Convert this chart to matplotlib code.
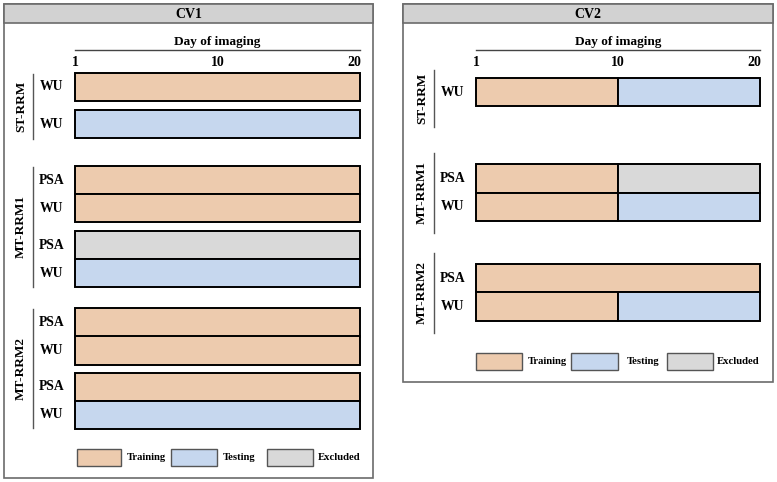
import matplotlib
matplotlib.use("Agg")
import matplotlib.pyplot as plt
from matplotlib.patches import Rectangle
from matplotlib.lines import Line2D
from matplotlib.transforms import offset_copy

plt.rcParams['font.family'] = ['Liberation Serif', 'DejaVu Serif']

W, H = 777, 482

# ---------------- data ----------------
categories = ["Training", "Testing", "Excluded"]
colors = {"Training": "#EDCBAE", "Testing": "#C6D7EE", "Excluded": "#D9D9D9"}

day_ticks = [0, 10, 20]
day_tick_labels = ["1", "10", "20"]

cv1_groups = ["ST-RRM", "MT-RRM1", "MT-RRM2"]
cv1_row_labels = [["WU", "WU"], ["PSA", "WU", "PSA", "WU"], ["PSA", "WU", "PSA", "WU"]]
# each row: list of (start, end, category)
cv1_segments = [
    [[(0, 20, "Training")], [(0, 20, "Testing")]],
    [[(0, 20, "Training")], [(0, 20, "Training")], [(0, 20, "Excluded")], [(0, 20, "Testing")]],
    [[(0, 20, "Training")], [(0, 20, "Training")], [(0, 20, "Training")], [(0, 20, "Testing")]],
]

cv2_groups = ["ST-RRM", "MT-RRM1", "MT-RRM2"]
cv2_row_labels = [["WU"], ["PSA", "WU"], ["PSA", "WU"]]
cv2_segments = [
    [[(0, 10, "Training"), (10, 20, "Testing")]],
    [[(0, 10, "Training"), (10, 20, "Excluded")], [(0, 10, "Training"), (10, 20, "Testing")]],
    [[(0, 20, "Training")], [(0, 10, "Training"), (10, 20, "Testing")]],
]

# ---------------- layout (pixel positions) ----------------
def fx(x):
    return x / W

def fy(y):
    return 1 - y / H

fig = plt.figure(figsize=(W / 100, H / 100), dpi=100)

def draw_panel(title, frame, bar_x, axis_y, bottom_y, row_tops, row_h,
               group_lines, groups, row_labels, segments, legend_y, legend_boxes):
    x0, y0, x1, y1 = frame
    # frame
    fig.patches.append(Rectangle((fx(x0), fy(y1)), fx(x1 - x0), (y1 - y0) / H,
                                 transform=fig.transFigure, fill=False,
                                 edgecolor="#6b6b6b", lw=1.2, zorder=1))
    # header
    hy = 23
    fig.patches.append(Rectangle((fx(x0), fy(hy)), fx(x1 - x0), (hy - y0) / H,
                                 transform=fig.transFigure, facecolor="#D2D2D2",
                                 edgecolor="#6b6b6b", lw=1.2, zorder=1))
    fig.text(fx((x0 + x1) / 2), fy((y0 + hy) / 2 + 0.5), title, ha="center", va="center",
             fontsize=10, fontweight="bold")

    bx0, bx1 = bar_x
    ax = fig.add_axes([fx(bx0), fy(bottom_y), fx(bx1 - bx0), (bottom_y - axis_y) / H])
    ax.set_xlim(day_ticks[0], day_ticks[-1])
    ax.set_ylim(bottom_y, axis_y)
    ax.patch.set_visible(False)
    for s in ["left", "right", "bottom"]:
        ax.spines[s].set_visible(False)
    ax.spines["top"].set_color("#444444")
    ax.spines["top"].set_linewidth(1.0)
    ax.set_xticks([])
    ax.set_yticks([])
    fig.text(fx((bx0 + bx1) / 2), fy(axis_y - 8), "Day of imaging", ha="center",
             va="center", fontsize=9.5, fontweight="bold")
    n = len(day_ticks)
    for i, (t, lab) in enumerate(zip(day_ticks, day_tick_labels)):
        dx = -6 if i == n - 1 else 0
        tr = offset_copy(ax.transData, fig=fig, x=dx, y=0, units="dots")
        ax.text(t, axis_y + 12.5, lab, ha="center", va="center", fontsize=10,
                fontweight="bold", clip_on=False, transform=tr)

    for gi, gname in enumerate(groups):
        for ri, lab in enumerate(row_labels[gi]):
            top = row_tops[gi][ri]
            for (s, e, cat) in segments[gi][ri]:
                ax.barh(top + row_h / 2, e - s, left=s, height=row_h,
                        color=colors[cat], edgecolor="black", linewidth=1.4,
                        clip_on=False, zorder=2)
            fig.text(fx(bx0 - 23.5), fy(top + row_h / 2), lab, ha="center", va="center",
                     fontsize=9.8, fontweight="bold")
        gy0, gy1 = group_lines[gi]
        lx = bx0 - 42
        fig.lines.append(Line2D([fx(lx), fx(lx)], [fy(gy0), fy(gy1)],
                                transform=fig.transFigure, color="#555555", lw=1.0))
        fig.text(fx(lx - 12), fy((gy0 + gy1) / 2), gname, rotation=90, ha="center",
                 va="center", fontsize=9.5, fontweight="bold")

    # legend
    for cat, (bxa, bxb, tx) in zip(categories, legend_boxes):
        fig.patches.append(Rectangle((fx(bxa), fy(legend_y + 8.5)), fx(bxb - bxa), 17 / H,
                                     transform=fig.transFigure, facecolor=colors[cat],
                                     edgecolor="#555555", lw=1.0))
        fig.text(fx(tx), fy(legend_y), cat, ha="left", va="center", fontsize=7.7,
                 fontweight="bold")


# CV1
h = 28.2
draw_panel("CV1", (4, 4, 373, 478), (75, 360), 50, 430,
           [[72.5, 110], [166, 194, 231, 259.2], [308.3, 336.3, 372.7, 400.9]], h,
           [(74, 139), (167, 287), (309, 428)],
           cv1_groups, cv1_row_labels, cv1_segments, 457,
           [(77, 121, 127), (171, 217, 222.5), (267, 313, 318)])

# CV2
draw_panel("CV2", (403, 4, 773, 382), (476, 760), 50, 330,
           [[78.3], [164.3, 192.5], [264, 292.3]], h,
           [(70, 127), (153, 233), (253, 333)],
           cv2_groups, cv2_row_labels, cv2_segments, 361.7,
           [(476, 522, 528), (571, 618, 626.5), (667, 713, 717)])

fig.savefig("out.png", dpi=100)
